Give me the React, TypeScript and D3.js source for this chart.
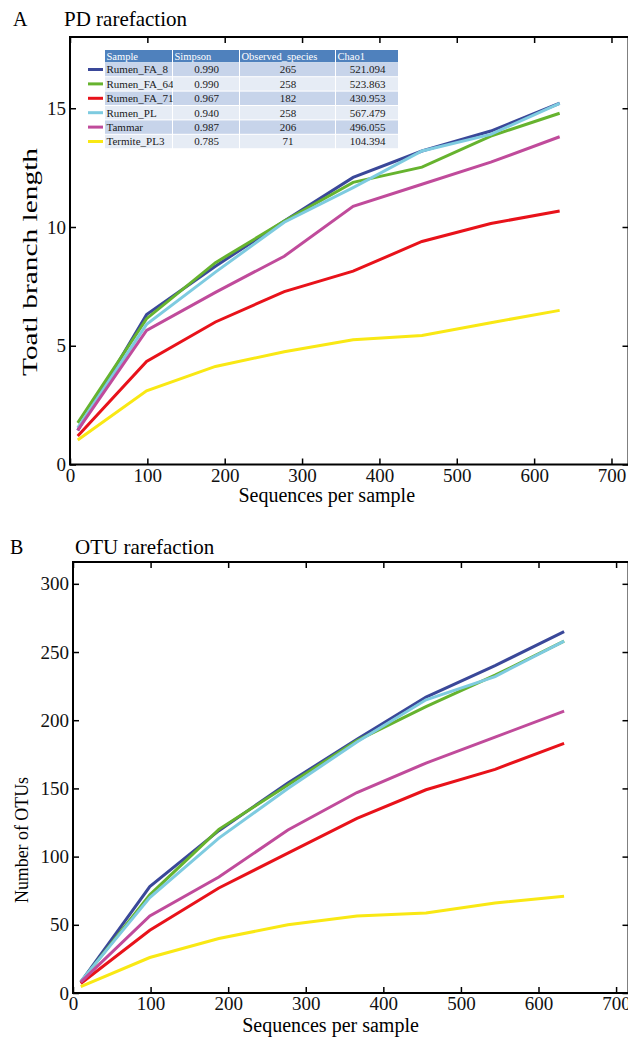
import React, { useEffect, useRef } from 'react';
import * as d3 from 'd3';

// rarefaction depths (sequences per sample)
const depths = [10, 99, 188, 277, 366, 455, 544, 633];

const samples = ['Rumen_FA_8', 'Rumen_FA_64', 'Rumen_FA_71', 'Rumen_PL', 'Tammar', 'Termite_PL3'];
const colors = ['#3a4899', '#66b32e', '#e8121a', '#7ecbe0', '#c04b9b', '#f9e814'];

// PD whole tree
const pdFA8 = [1.43, 6.31, 8.35, 10.25, 12.09, 13.2, 14.04, 15.21];
const pdFA64 = [1.75, 6.14, 8.5, 10.25, 11.88, 12.52, 13.83, 14.79];
const pdFA71 = [1.2, 4.34, 6.0, 7.28, 8.14, 9.39, 10.15, 10.67];
const pdPL = [1.54, 5.9, 8.1, 10.2, 11.66, 13.2, 13.9, 15.21];
const pdTammar = [1.45, 5.65, 7.25, 8.77, 10.87, 11.8, 12.73, 13.8];
const pdTermite = [1.03, 3.1, 4.13, 4.75, 5.25, 5.43, 5.97, 6.49];

// observed OTUs
const otuFA8 = [8, 78, 119, 154, 186, 217, 240, 265];
const otuFA64 = [8, 72, 120, 152.5, 185, 210, 233, 258];
const otuFA71 = [7, 46, 77, 102.6, 128, 149, 164, 183];
const otuPL = [8.5, 70, 113.6, 150, 184, 215, 232, 258];
const otuTammar = [8, 56.5, 85, 119.5, 147, 168.6, 187.6, 206.7];
const otuTermite = [4.6, 26, 40, 50, 56.4, 58.6, 66, 71];

// inset table
const tableHeader = ['Sample', 'Simpson', 'Observed_species', 'Chao1'];
const simpson = ['0.990', '0.990', '0.967', '0.940', '0.987', '0.785'];
const observed = ['265', '258', '182', '258', '206', '71'];
const chao1 = ['521.094', '523.863', '430.953', '567.479', '496.055', '104.394'];

const xTicks = [0, 100, 200, 300, 400, 500, 600, 700];
const pdTicks = [0, 5, 10, 15];
const otuTicks = [0, 50, 100, 150, 200, 250, 300];

const FONT = 'Liberation Serif';

const App = () => {
  const ref = useRef(null);

  useEffect(() => {
    const svg = d3.select(ref.current);
    svg.selectAll('*').remove();

    const drawPanel = (opts) => {
      const { left, right, top, bottom, xMax, yMax, yTicks, series, letter, title, titleY, letterX, titleX, yLabel, yLabelX, yLabelY, yLabelSize, yLabelLen, xLabelY } = opts;
      const x = d3.scaleLinear().domain([0, xMax]).range([left, right]);
      const y = d3.scaleLinear().domain([0, yMax]).range([bottom, top]);
      const g = svg.append('g').attr('font-family', FONT);

      const styleAxis = (sel) => {
        sel.attr('font-family', FONT);
        sel.select('.domain').remove();
        sel.selectAll('line').attr('stroke', '#000').attr('stroke-width', 1.5);
        sel.selectAll('text').attr('font-family', FONT).attr('font-size', 19).attr('fill', '#111');
      };

      g.append('g').attr('transform', `translate(0,${bottom})`)
        .call(d3.axisBottom(x).tickValues(xTicks).tickSize(-6).tickPadding(4)).call(styleAxis);
      g.append('g').attr('transform', `translate(0,${top})`)
        .call(d3.axisTop(x).tickValues(xTicks).tickSize(-6).tickFormat(() => '')).call(styleAxis);
      g.append('g').attr('transform', `translate(${left},0)`)
        .call(d3.axisLeft(y).tickValues(yTicks).tickSize(-6).tickPadding(4)).call(styleAxis);
      g.append('g').attr('transform', `translate(${right},0)`)
        .call(d3.axisRight(y).tickValues(yTicks).tickSize(-6).tickFormat(() => '')).call(styleAxis);

      g.append('rect')
        .attr('x', left).attr('y', top)
        .attr('width', right - left).attr('height', bottom - top)
        .attr('fill', 'none').attr('stroke', '#000').attr('stroke-width', 2);

      const line = d3.line().x((d, i) => x(depths[i])).y((d) => y(d));
      series.forEach((vals, i) => {
        g.append('path')
          .attr('d', line(vals))
          .attr('fill', 'none')
          .attr('stroke', colors[i])
          .attr('stroke-width', 3)
          .attr('stroke-linejoin', 'miter');
      });

      g.append('text').attr('x', letterX).attr('y', titleY)
        .attr('font-size', 20).text(letter);
      g.append('text').attr('x', titleX).attr('y', titleY)
        .attr('font-size', 21).text(title);

      g.append('text')
        .attr('transform', `translate(${yLabelX},${yLabelY}) rotate(-90)`)
        .attr('text-anchor', 'middle')
        .attr('font-size', yLabelSize)
        .attr('textLength', yLabelLen).attr('lengthAdjust', 'spacingAndGlyphs')
        .text(yLabel);

      g.append('text')
        .attr('x', (left + x(700)) / 2 - 14).attr('y', xLabelY)
        .attr('text-anchor', 'middle')
        .attr('font-size', 20)
        .text('Sequences per sample');
    };

    drawPanel({
      left: 70, right: 628.5, top: 37, bottom: 464.5, xMax: 722, yMax: 18,
      yTicks: pdTicks,
      series: [pdFA8, pdFA64, pdFA71, pdPL, pdTammar, pdTermite],
      letter: 'A', title: 'PD rarefaction', titleY: 26, letterX: 13, titleX: 64,
      yLabel: 'Toatl branch length', yLabelX: 37, yLabelY: 262, yLabelSize: 21, yLabelLen: 228,
      xLabelY: 502,
    });

    drawPanel({
      left: 73, right: 628.5, top: 562, bottom: 993, xMax: 716, yMax: 316,
      yTicks: otuTicks,
      series: [otuFA8, otuFA64, otuFA71, otuPL, otuTammar, otuTermite],
      letter: 'B', title: 'OTU rarefaction', titleY: 554, letterX: 10, titleX: 75,
      yLabel: 'Number of OTUs', yLabelX: 28, yLabelY: 840, yLabelSize: 19, yLabelLen: 126,
      xLabelY: 1032,
    });

    // inset table with legend swatches
    const colEdges = [105, 173, 240, 336, 399];
    const headTop = 50;
    const headH = 12.3;
    const rowH = 14.4;
    const t = svg.append('g').attr('font-family', FONT);

    tableHeader.forEach((h, c) => {
      t.append('rect')
        .attr('x', colEdges[c]).attr('y', headTop)
        .attr('width', colEdges[c + 1] - colEdges[c] - 1).attr('height', headH)
        .attr('fill', '#4f81bd');
      t.append('text')
        .attr('x', colEdges[c] + 1.5).attr('y', headTop + 10)
        .attr('font-size', 10.5).attr('fill', '#fff')
        .text(h);
    });

    samples.forEach((s, r) => {
      const y0 = headTop + headH + 0.5 + r * rowH;
      const cells = [s, simpson[r], observed[r], chao1[r]];
      cells.forEach((v, c) => {
        t.append('rect')
          .attr('x', colEdges[c]).attr('y', y0)
          .attr('width', colEdges[c + 1] - colEdges[c] - 1).attr('height', rowH - 1)
          .attr('fill', r % 2 === 0 ? '#c7d4ea' : '#e6ecf5');
        t.append('text')
          .attr('x', c === 0 ? colEdges[c] + 1.5 : (colEdges[c] + colEdges[c + 1]) / 2)
          .attr('y', y0 + 10.5)
          .attr('text-anchor', c === 0 ? 'start' : 'middle')
          .attr('font-size', 11).attr('fill', '#1a1a1a')
          .text(v);
      });
      t.append('line')
        .attr('x1', 88).attr('x2', 103)
        .attr('y1', y0 + (rowH - 1) / 2).attr('y2', y0 + (rowH - 1) / 2)
        .attr('stroke', colors[r]).attr('stroke-width', 3);
    });
  }, []);

  return (
    <svg
      ref={ref}
      width={628}
      height={1038}
      style={{ position: 'absolute', left: 0, top: 0, background: '#fff' }}
    />
  );
};

export default App;
